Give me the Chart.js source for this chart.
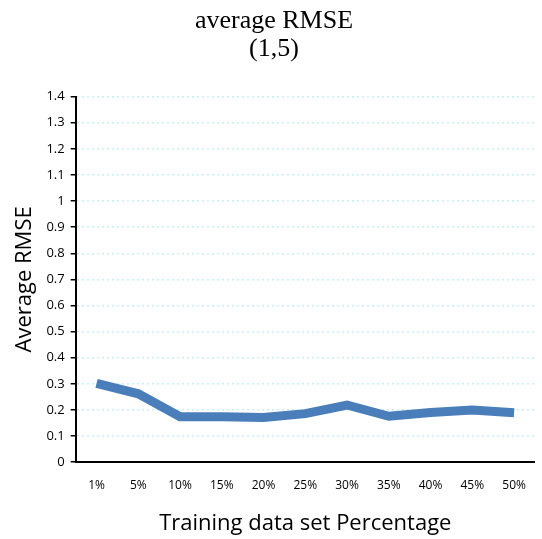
<!DOCTYPE html>
<html>
<head>
<meta charset="utf-8">
<script src="https://cdn.jsdelivr.net/npm/chart.js@4"></script>
<style>
  body { margin: 0; background: #fff; }
  #wrap { width: 542px; height: 539px; }
</style>
</head>
<body>
<div id="wrap"><canvas id="myChart"></canvas></div>
<script>
const categories = ["1%", "5%", "10%", "15%", "20%", "25%", "30%", "35%", "40%", "45%", "50%"];
const rmseValues = [0.302, 0.262, 0.174, 0.174, 0.171, 0.186, 0.219, 0.176, 0.190, 0.200, 0.189];
const yTicks = [0, 0.1, 0.2, 0.3, 0.4, 0.5, 0.6, 0.7, 0.8, 0.9, 1, 1.1, 1.2, 1.3, 1.4];

let chart = new Chart("myChart", {
    type: "line",
    data: {
        labels: categories,
        datasets: [{
            data: rmseValues,
            borderColor: "#4a7ebb",
            borderWidth: 9,
            pointRadius: 0,
            fill: false,
            tension: 0
        }]
    },
    options: {
        responsive: true,
        maintainAspectRatio: false,
        animation: false,
        layout: { padding: { left: 8, right: 2, top: 8, bottom: 2 } },
        plugins: {
            legend: { display: false },
            tooltip: { enabled: false },
            title: {
                display: true,
                text: ["average RMSE", "(1,5)"],
                color: "#000",
                font: { family: "Liberation Serif", size: 26, weight: "normal", lineHeight: 1.05 },
                padding: { top: 0, bottom: 34 }
            }
        },
        scales: {
            x: {
                offset: true,
                grid: { display: false, drawTicks: false },
                border: { color: "#000", width: 2 },
                ticks: { color: "#000", font: { family: "Open Sans", size: 12 }, padding: 16, maxRotation: 0 },
                title: {
                    display: true,
                    text: "Training data set Percentage",
                    color: "#000",
                    font: { family: "Open Sans", size: 22 },
                    padding: { top: 2, bottom: 0 }
                }
            },
            y: {
                min: 0,
                max: 1.4,
                afterBuildTicks: function(axis) {
                    axis.ticks = yTicks.map(v => ({ value: v }));
                },
                grid: {
                    color: "#c8f0f4",
                    lineWidth: 1.5,
                    tickColor: "#000",
                    tickLength: 5,
                    tickBorderDash: [],
                    drawOnChartArea: true
                },
                border: { color: "#000", width: 2, dash: [2, 3] },
                ticks: {
                    color: "#000",
                    font: { family: "Open Sans", size: 13 },
                    padding: 6,
                    callback: function(value) { return String(Math.round(value * 10) / 10); }
                },
                title: {
                    display: true,
                    text: "Average RMSE",
                    color: "#000",
                    font: { family: "Open Sans", size: 22 },
                    padding: { bottom: 2 }
                }
            }
        }
    }
});
</script>
</body>
</html>
